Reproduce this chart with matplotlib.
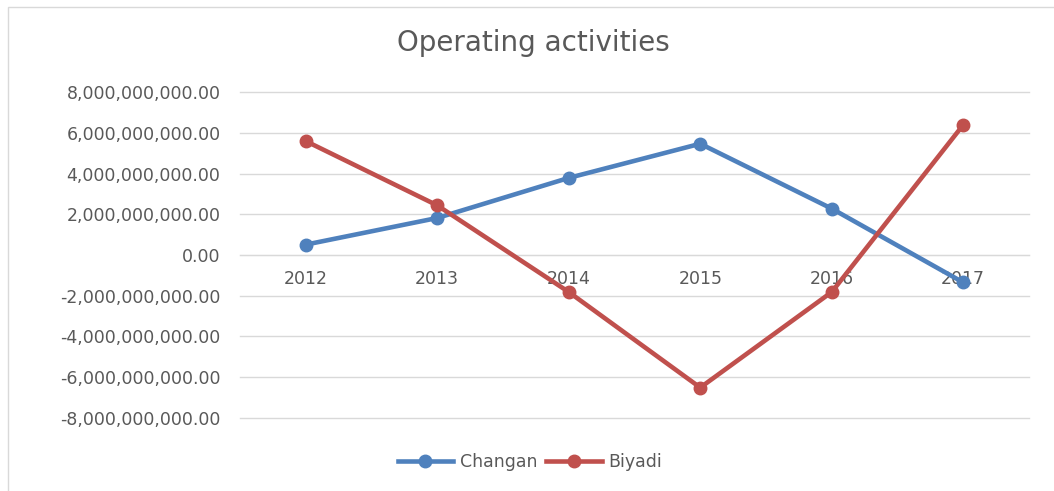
import matplotlib
matplotlib.use('Agg')
import matplotlib.pyplot as plt
from matplotlib.ticker import FuncFormatter
from matplotlib.patches import Rectangle

# values
years   = ['2012', '2013', '2014', '2015', '2016', '2017']
changan = [0.51e9, 1.82e9, 3.79e9, 5.47e9, 2.28e9, -1.35e9]
biyadi  = [5.60e9, 2.44e9, -1.82e9, -6.52e9, -1.82e9, 6.40e9]
yticks  = [-8e9, -6e9, -4e9, -2e9, 0, 2e9, 4e9, 6e9, 8e9]

BLUE = '#4F81BD'
RED  = '#C0504D'
GREY = '#595959'
GRID = '#D9D9D9'

plt.rcParams['font.family'] = ['DejaVu Sans']
plt.rcParams['axes.unicode_minus'] = False

fig = plt.figure(figsize=(10.54, 4.91), dpi=100)
# chart frame (runs off the right / bottom edge like the screenshot)
fig.patches.append(Rectangle((8 / 1054, -0.02), 1.1, 1 - 7 / 491 + 0.02,
                             transform=fig.transFigure, fill=False,
                             edgecolor=GRID, linewidth=1.0))

ax = fig.add_axes([240 / 1054, 1 - 417.7 / 491, 789 / 1054, 325.4 / 491])
x = range(len(years))
ax.plot(x, changan, color=BLUE, lw=3.3, marker='o', ms=9, label='Changan', zorder=3)
ax.plot(x, biyadi, color=RED, lw=3.3, marker='o', ms=9, label='Biyadi', zorder=3)

ax.set_xlim(-0.5, len(years) - 0.5)
ax.set_ylim(-8e9, 8e9)
ax.set_yticks(yticks)
ax.yaxis.set_major_formatter(FuncFormatter(lambda v, p: f'{v:,.2f}'))
ax.grid(axis='y', color=GRID, lw=1)
ax.set_axisbelow(True)
for gl in ax.get_ygridlines():
    gl.set_clip_on(False)

for s in ['top', 'right', 'left']:
    ax.spines[s].set_visible(False)
ax.spines['bottom'].set_position(('data', 0))
ax.spines['bottom'].set_color(GRID)

ax.set_xticks(list(x))
ax.set_xticklabels(years)
ax.tick_params(axis='x', length=0, pad=11, labelsize=12.5, labelcolor=GREY)
ax.tick_params(axis='y', length=0, pad=14, labelsize=12.5, labelcolor=GREY)

fig.text(533 / 1054, 1 - 43 / 491, 'Operating activities', ha='center', va='center',
         fontsize=20, color=GREY)

fig.legend(loc='center', bbox_to_anchor=(530 / 1054, 1 - 462 / 491), ncol=2,
           frameon=False, fontsize=12.5, labelcolor=GREY, handlelength=3.2,
           columnspacing=0.5, handletextpad=0.4)

fig.savefig('out.png', dpi=100)
